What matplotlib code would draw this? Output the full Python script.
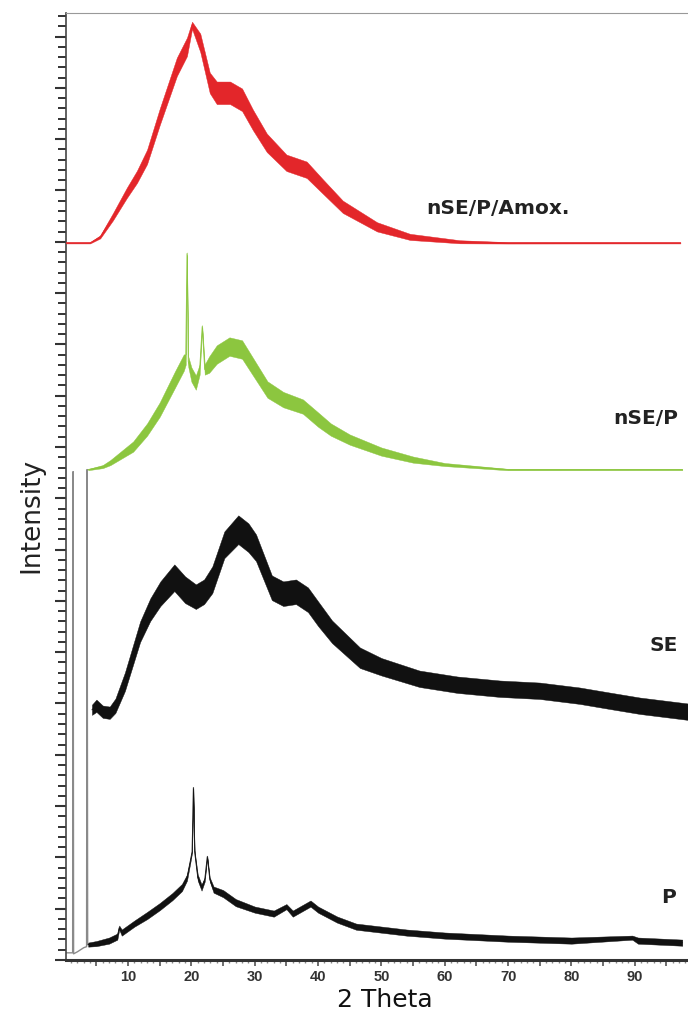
import matplotlib
matplotlib.use("Agg")
import matplotlib.pyplot as plt
from matplotlib.ticker import MultipleLocator, FuncFormatter

# ---------------- data (2θ in degrees, intensity in arbitrary units) ----------------
# stacking offsets of each pattern
offset_amox = 69.9
offset_nsep = 47.8
offset_se = 24.1
offset_p = 1.5

# nSE/P/Amox. (red)
amox_x = [0.2, 4.0, 5.6, 7.6, 9.8, 11.4, 13, 15, 17.7, 19.3, 20.1, 21.4, 22.9, 24, 26.1, 28, 29.7,
          31.9, 35, 38.2, 40.8, 43.9, 49.3, 54.5, 62.4, 70, 97.2]
amox_y = [0, 0, 0.58, 2.53, 4.87, 6.43, 8.38, 12.28, 17.15, 19.10, 21.2, 19.49, 15.59, 14.62,
          14.62, 13.94, 11.99, 9.75, 7.80, 7.12, 5.46, 3.51, 1.56, 0.58, 0.10, 0, 0]
amox_hw = [0.06, 0.06, 0.15, 0.35, 0.5, 0.6, 0.7, 0.8, 0.9, 0.9, 0.35, 0.9, 1.0, 1.1, 1.1, 1.1,
           1.0, 0.9, 0.8, 0.8, 0.7, 0.6, 0.45, 0.3, 0.15, 0.07, 0.06]

# nSE/P (green)
nsep_x = [3.7, 6, 7.2, 10.8, 13, 15, 17.4, 18.8, 19.1, 19.3, 19.5, 20, 20.7, 21.3, 21.7, 22.1,
          22.8, 24, 26, 28, 30, 32, 34.5, 37.6, 40, 42, 45, 50, 55, 60, 70, 97.5]
nsep_y = [0, 0.29, 0.68, 2.24, 3.90, 5.85, 8.77, 10.43, 10.72, 21.05, 10.53, 9.26, 8.48, 9.75,
          13.94, 9.75, 10.23, 11.21, 11.99, 11.70, 9.75, 7.80, 6.82, 6.14, 4.87, 3.90, 2.92,
          1.75, 0.97, 0.49, 0, 0]
nsep_hw = [0.06, 0.15, 0.25, 0.5, 0.6, 0.7, 0.8, 0.8, 0.5, 0.12, 0.5, 0.7, 0.7, 0.5, 0.15, 0.5,
           0.8, 0.9, 0.9, 0.9, 0.85, 0.8, 0.75, 0.7, 0.7, 0.6, 0.5, 0.4, 0.3, 0.15, 0.07, 0.06]

# SE (black)
se_x = [4.3, 5, 6, 7.1, 8, 9.5, 11.9, 13.5, 15.1, 17.3, 19, 20.7, 22, 23.3, 25.2, 27.4, 29, 30.2,
        32.7, 34.5, 36.5, 38.4, 40, 42.2, 46.6, 50, 56, 62, 68.7, 75, 81.3, 86, 90.8, 98.4]
se_y = [0.29, 0.68, 0.1, 0, 0.68, 3.02, 7.89, 10.04, 11.60, 13.16, 11.99, 11.31, 11.79, 12.96,
        16.37, 17.84, 17.06, 16.08, 12.18, 11.60, 11.79, 11.01, 9.65, 7.89, 5.36, 4.48, 3.31,
        2.73, 2.34, 2.14, 1.66, 1.17, 0.68, 0.1]
se_hw = [0.5, 0.6, 0.6, 0.6, 0.7, 0.9, 1.0, 1.1, 1.2, 1.3, 1.3, 1.2, 1.2, 1.3, 1.3, 1.4, 1.4, 1.3,
         1.2, 1.2, 1.2, 1.2, 1.2, 1.1, 1.0, 0.85, 0.8, 0.8, 0.8, 0.8, 0.8, 0.8, 0.8, 0.8]

# P (black) – low-angle part with the two direct-beam spikes
p_low_x = [0.2, 1.25, 1.32, 1.40, 2.0, 3.0, 3.45, 3.53, 3.62, 3.7]
p_low_y = [-0.8, -0.8, 46.1, -0.9, -0.7, -0.3, -0.2, 46.3, 0.0, 0.0]
# P main pattern
p_x = [3.7, 5, 7, 8.3, 8.6, 9, 11, 13, 15, 17, 18.5, 19.3, 19.8, 20.1, 20.3, 20.5, 21, 21.6, 22.1,
       22.5, 22.9, 23.5, 25, 27, 30, 33, 35, 36, 38.8, 40, 43, 46, 50, 54, 60, 70, 80, 89.6,
       90.5, 97.5]
p_y = [0, 0.1, 0.39, 0.78, 1.66, 1.17, 2.05, 2.83, 3.70, 4.68, 5.56, 6.53, 8.09, 9.06, 15.30, 9.06,
       6.53, 5.56, 6.34, 8.58, 6.34, 5.36, 4.97, 4.09, 3.41, 3.02, 3.70, 3.02, 4.00, 3.41, 2.44,
       1.75, 1.46, 1.17, 0.88, 0.58, 0.39, 0.68, 0.39, 0.19]
p_hw = [0.2, 0.25, 0.3, 0.3, 0.2, 0.3, 0.3, 0.35, 0.35, 0.35, 0.35, 0.3, 0.2, 0.12, 0.08, 0.12,
        0.3, 0.3, 0.2, 0.1, 0.2, 0.3, 0.35, 0.35, 0.3, 0.3, 0.25, 0.3, 0.3, 0.3, 0.3, 0.3, 0.3,
        0.3, 0.3, 0.3, 0.3, 0.2, 0.3, 0.3]

labels = ["nSE/P/Amox.", "nSE/P", "SE", "P"]
label_x = [68.4, 91.7, 94.5, 95.3]
label_y = [73.2, 52.8, 30.7, 6.1]

x_tick_labels = ["10", "20", "30", "40", "50", "60", "70", "80", "90"]

RED = "#e3262a"
GREEN = "#8cc63f"
BLACK = "#111111"

# ---------------- figure ----------------
fig = plt.figure(figsize=(6.88, 10.14), dpi=100)
ax = fig.add_axes([66 / 688, 54 / 1014, 622 / 688, 947 / 1014])


def band(x, y, hw, off, color):
    yc = [off + v for v in y]
    lo = [c - h for c, h in zip(yc, hw)]
    hi = [c + h for c, h in zip(yc, hw)]
    ax.fill_between(x, lo, hi, color=color, lw=0.3, edgecolor=color, zorder=3)
    ax.plot(x, yc, color=color, lw=0.6, zorder=3)


ax.plot(p_low_x, [offset_p + v for v in p_low_y], color="#8a8a8a", lw=1.0, zorder=2)
band(p_x, p_y, p_hw, offset_p, BLACK)
band(se_x, se_y, se_hw, offset_se, BLACK)
band(nsep_x, nsep_y, nsep_hw, offset_nsep, GREEN)
band(amox_x, amox_y, amox_hw, offset_amox, RED)

for t, lx, ly in zip(labels, label_x, label_y):
    ax.text(lx, ly, t, ha="center", va="center", fontsize=14.5, fontweight="bold",
            family="DejaVu Sans", color="#222222", zorder=5)

ax.set_xlim(0.2, 98.4)
ax.set_ylim(0, 92.3)

# spines
ax.spines["right"].set_visible(False)
ax.spines["top"].set_color("#999999")
ax.spines["top"].set_linewidth(0.8)
ax.spines["left"].set_color("#444444")
ax.spines["left"].set_linewidth(1.2)
ax.spines["bottom"].set_color("#333333")
ax.spines["bottom"].set_linewidth(2.2)

# y ticks (no labels)
ax.yaxis.set_major_locator(MultipleLocator(5))
ax.yaxis.set_minor_locator(MultipleLocator(1))
ax.tick_params(axis="y", which="major", direction="out", length=8, width=1.5,
               color="#333333", labelleft=False)
ax.tick_params(axis="y", which="minor", direction="out", length=5.5, width=1.4,
               color="#333333")

# x ticks
ax.xaxis.set_major_locator(MultipleLocator(5))
ax.xaxis.set_minor_locator(MultipleLocator(1))
tick_map = {int(s): s for s in x_tick_labels}
ax.xaxis.set_major_formatter(FuncFormatter(lambda v, p: tick_map.get(int(round(v)), "")))
ax.tick_params(axis="x", which="major", direction="out", length=4, width=1.2,
               color="#555555", labelsize=10.5, pad=3.5, labelcolor="#333333")
ax.tick_params(axis="x", which="minor", direction="out", length=2.5, width=1.0,
               color="#888888")
for lab in ax.get_xticklabels():
    lab.set_fontfamily("Liberation Sans")
    lab.set_fontweight("bold")

fig.text(385 / 688, 1 - 1000 / 1014, "2 Theta", ha="center", va="center",
         fontsize=18, color="#111111", family="DejaVu Sans")
fig.text(31 / 688, 1 - 515 / 1014, "Intensity", ha="center", va="center", rotation=90,
         fontsize=19, color="#222222", family="DejaVu Sans")

fig.savefig("out.png", dpi=100, facecolor="white")
